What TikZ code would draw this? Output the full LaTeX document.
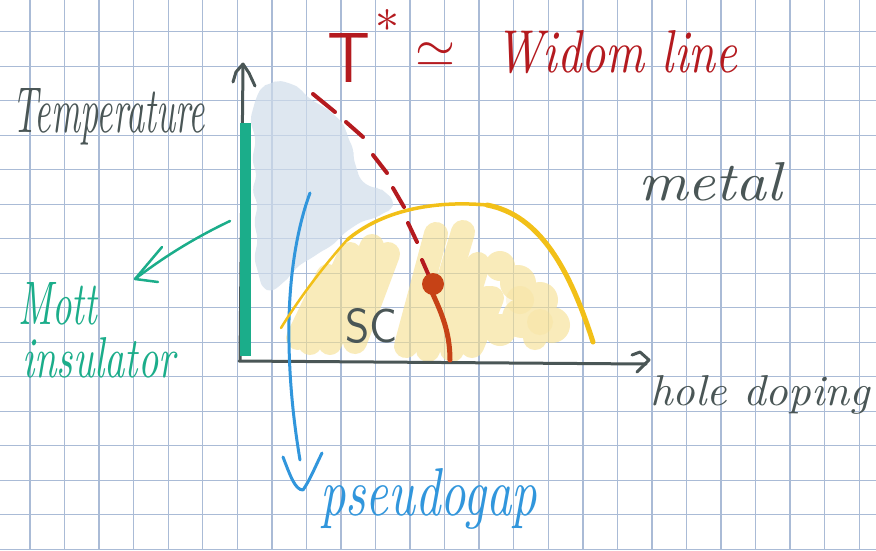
\documentclass[tikz,border=0pt]{standalone}
\usepackage{graphicx}
\definecolor{gridc}{RGB}{170,187,214}
\definecolor{axisc}{RGB}{74,86,86}
\definecolor{mottc}{RGB}{27,173,138}
\definecolor{pgc}{RGB}{49,150,220}
\definecolor{widomc}{RGB}{180,26,31}
\definecolor{dotc}{RGB}{198,66,22}
\definecolor{domec}{RGB}{242,192,24}
\definecolor{scfill}{RGB}{246,222,140}
\definecolor{cloudc}{RGB}{208,221,235}
\newcommand{\handtext}[3]{\resizebox{#1pt}{#2pt}{\itshape #3}}
\newcommand{\printtext}[3]{\resizebox{#1pt}{#2pt}{\sffamily\upshape #3}}
\tikzset{
  gridline/.style={draw=gridc, line width=1.4pt},
  axisline/.style={draw=axisc, line width=3pt, line cap=round, line join=round},
  lbl/.style={inner sep=0pt, anchor=base west},
  scstroke/.style={draw=scfill, line width=24pt, line cap=round},
  scblob/.style={fill=scfill},
  widomdash/.style={draw=widomc, line width=4pt, line cap=round},
  mottline/.style={draw=mottc, line width=2.5pt, line cap=round, line join=round},
  pgline/.style={draw=pgc, line width=3pt, line cap=round, line join=round},
  domeline/.style={draw=domec, line cap=round, line join=round}
}
\begin{document}
\begin{tikzpicture}[x=1pt,y=-1pt]
\useasboundingbox (0,0) rectangle (876,550);
\fill[white] (0,0) rectangle (876,550);
% grid
\foreach \i in {0,...,24} \draw[gridline] ({30+34.55*\i},0) -- ({30+34.55*\i},550);
\foreach \j in {0,...,15} \draw[gridline] (0,{31.7+34.5*\j}) -- (876,{31.7+34.5*\j});
% pseudogap cloud
\fill[cloudc, opacity=0.7, rounded corners=6pt]
  (250,120) -- (256,98) -- (262,86) -- (270,84) -- (278,80) -- (292,84) -- (300,88)
  -- (306,96) -- (318,104) -- (326,108) -- (332,113) -- (342,122) -- (346,130)
  -- (348,138) -- (354,150) -- (353,158) -- (356,166) -- (360,180) -- (366,184)
  -- (372,188) -- (380,188) -- (386,193) -- (394,200) -- (392,210) -- (384,212)
  -- (378,217) -- (360,222) -- (352,228) -- (345,232) -- (338,240) -- (330,247)
  -- (320,252) -- (312,258) -- (304,262) -- (296,268) -- (290,276) -- (284,282)
  -- (272,292) -- (262,288) -- (258,272) -- (254,258) -- (258,240) -- (254,222)
  -- (258,205) -- (252,190) -- (257,175) -- (252,160) -- (256,140) -- cycle;
% SC shading
\begin{scope}[transparency group, opacity=0.6]
\draw[scstroke] (298,338) -- (328,276);
\draw[scstroke] (310,343) -- (350,254);
\draw[scstroke] (330,343) -- (372,246);
\draw[scstroke] (355,342) -- (388,254);
\draw[scstroke] (406,346) -- (436,234);
\draw[scstroke] (428,350) -- (463,232);
\draw[scstroke] (452,350) -- (478,264);
\draw[scstroke] (472,346) -- (492,298);
\fill[scblob] (500,266) circle (15);
\fill[scblob] (518,283) circle (18);
\fill[scblob] (540,300) circle (18);
\fill[scblob] (522,318) circle (20);
\fill[scblob] (552,325) circle (18);
\fill[scblob] (500,330) circle (16);
\fill[scblob] (488,300) circle (14);
\fill[scblob] (535,338) circle (12);
\end{scope}
\fill[scfill, opacity=0.25] (520,300) circle (14);
\fill[scfill, opacity=0.25] (540,322) circle (13);
% axes
\draw[axisline] (240,360) -- (243,66);
\draw[axisline] (233,82) -- (236,72) -- (243,64) -- (249,73) -- (255,86);
\draw[axisline] (239,361) -- (646,364);
\draw[axisline] (632,355) -- (640,352) -- (649,360) -- (637,372);
% Mott insulator bar and arrow
\draw[draw=mottc, line width=11pt] (245,123) -- (245,356);
\draw[mottline] (230,221) .. controls (190,240) and (160,260) .. (135,279);
\draw[mottline] (162,247) -- (135,279) -- (158,282);
% pseudogap line
\draw[pgline] (310,193) .. controls (298,225) and (290,270) .. (289,320)
  .. controls (288,380) and (295,430) .. (300,460);
\draw[pgline] (283,457) .. controls (290,475) and (295,490) .. (303,490)
  .. controls (310,480) and (316,465) .. (322,453);
% SC dome
\draw[domeline, line width=2.5pt] (281,328) .. controls (295,305) and (320,270) .. (347,240);
\draw[domeline, line width=3.5pt] (347,240) .. controls (380,212) and (430,200) .. (487,205);
\draw[domeline, line width=5pt] (487,205) .. controls (540,215) and (570,270) .. (593,342);
% Widom line
\draw[widomdash] (313,94) -- (335,112);
\draw[widomdash] (346,122) -- (363,137);
\draw[widomdash] (373,155) -- (387,173);
\draw[widomdash] (393,188) -- (404,207);
\draw[widomdash] (408,223) -- (417,242);
\draw[widomdash] (422,260) -- (429,276);
\fill[dotc] (433,284) circle (11);
\draw[draw=dotc, line width=5pt, line cap=round] (431,290) .. controls (440,310) and (450,330) .. (450,360);
% labels
\node[lbl, text=axisc] (temp) at (12,132) {\handtext{193}{44}{Temperature}};
\node[lbl, text=axisc] (metal) at (638,200) {\handtext{144}{38}{metal}};
\node[lbl, text=axisc] (doping) at (650,405) {\handtext{220}{30}{hole doping}};
\node[lbl, text=axisc] (sc) at (345,342) {\printtext{52}{34}{SC}};
\node[lbl, text=pgc] (pg) at (320,515) {\handtext{217}{47}{pseudogap}};
\node[lbl, text=mottc] (mott) at (18,324) {\handtext{79}{42}{Mott}};
\node[lbl, text=mottc] (ins) at (22,377) {\handtext{153}{40}{insulator}};
\node[lbl, text=widomc] (tstar) at (327,82) {\printtext{43}{49}{T}};
\node[text=widomc, inner sep=0pt] (star) at (387,27) {\resizebox{24pt}{!}{*}};
\node[text=widomc, inner sep=0pt] (simeq) at (435,55) {\resizebox{40pt}{!}{$\simeq$}};
\node[lbl, text=widomc] (widom) at (495,72) {\handtext{242}{42}{Widom line}};
\end{tikzpicture}
\end{document}
